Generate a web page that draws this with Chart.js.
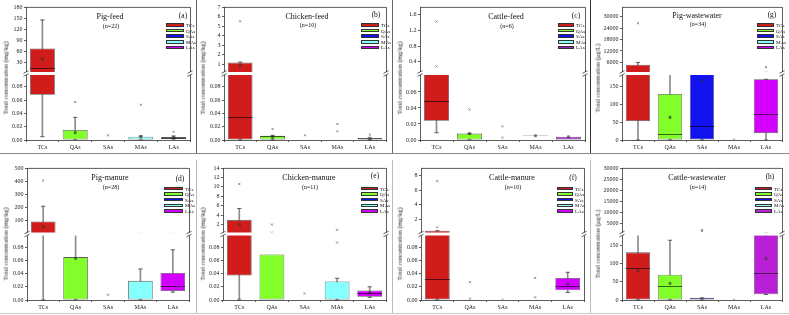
<!DOCTYPE html>
<html>
<head>
<meta charset="utf-8">
<script src="https://cdn.jsdelivr.net/npm/chart.js@4.4.1/dist/chart.umd.min.js"></script>
<style>
  body { margin: 0; background: #fff; width: 789px; height: 315px; position: relative; overflow: hidden; font-family: "Liberation Serif", "Times New Roman", serif; }
  canvas { position: absolute; }
  .t { position: absolute; white-space: nowrap; transform: translate(-50%, -50%); color: #111; line-height: 1; }
  .yl { position: absolute; white-space: nowrap; transform: translate(-50%, -50%) rotate(-90deg); color: #111; font-size: 6.5px; line-height: 1; }
  .sw { position: absolute; height: 3.6px; border: 0.6px solid #333; box-sizing: border-box; }
  .lg { position: absolute; font-size: 5px; line-height: 1; transform: translateY(-50%); color: #111; white-space: nowrap; }
  .sep { position: absolute; background: #999; }
</style>
</head>
<body>
<script>
const categories = ['TCs', 'QAs', 'SAs', 'MAs', 'LAs'];

// (a) Pig-feed, mg/kg
const pigFeedBox = [[0.068, 68], [0, 0.015], null, [0, 0.005], [0.002, 0.0045]];
const pigFeedWhisker = [[0.005, 145], [0, 0.034], null, [0, 0.006], [0.0015, 0.006]];
const pigFeedMedian = [14, null, null, null, 0.0035];
const pigFeedMean = [39, 0.011, null, 0.005, 0.004];
const pigFeedOutliers = [[], [0.057], [0.007], [0.053], [0.0125]];
const pigFeedLowerRange = [0, 0.1], pigFeedUpperRange = [0, 180];
const pigFeedLowerTicks = [0, 0.02, 0.04, 0.06, 0.08];
const pigFeedUpperTicks = [30, 60, 90, 120, 150, 180];

// (b) Chicken-feed, mg/kg
const chickenFeedBox = [[0, 1.15], [0, 0.0065], null, null, [0, 0.003]];
const chickenFeedWhisker = [[0, 1.2], [0, 0.007], null, null, [0, 0.003]];
const chickenFeedMedian = [0.034, 0.006, null, null, null];
const chickenFeedMean = [0.85, 0.004, null, null, 0.002];
const chickenFeedOutliers = [[5.5], [0.0165], [0.007], [0.024, 0.013], [0.008, 0.0035]];
const chickenFeedLowerRange = [0, 0.1], chickenFeedUpperRange = [0, 7];
const chickenFeedLowerTicks = [0, 0.02, 0.04, 0.06, 0.08];
const chickenFeedUpperTicks = [1, 2, 3, 4, 5, 6, 7];

// (c) Cattle-feed, mg/kg
const cattleFeedBox = [[0.024, 0.105], [0, 0.008], null, [0.005, 0.0056], [0, 0.004]];
const cattleFeedWhisker = [[0.009, 0.105], [0, 0.008], null, null, null];
const cattleFeedMedian = [0.0486, null, null, null, null];
const cattleFeedMean = [null, 0.008, null, 0.0053, 0.004];
const cattleFeedOutliers = [[1.43, 0.28], [0.038], [0.017, 0.003], [], []];
const cattleFeedLowerRange = [0, 0.083], cattleFeedUpperRange = [0.1, 1.8];
const cattleFeedLowerTicks = [0, 0.02, 0.04, 0.06];
const cattleFeedUpperTicks = [0.4, 0.8, 1.2, 1.6];

// (g) Pig-wastewater, ug/L
const pigWaterBox = [[53, 4800], [0, 128], [0, 700], null, [19, 169]];
const pigWaterWhisker = [[0, 6000], [0, 450], [0, 700], null, [0, 169]];
const pigWaterMedian = [1100, 16, 38, null, 72];
const pigWaterMean = [null, 63, 165, null, null];
const pigWaterOutliers = [[26500], [], [], [1], [3500, 700]];
const pigWaterLowerRange = [0, 185], pigWaterUpperRange = [200, 35000];
const pigWaterLowerTicks = [0, 50, 100, 150];
const pigWaterUpperTicks = [6000, 12000, 18000, 24000, 30000];

// (d) Pig-manure, mg/kg
const pigManureBox = [[1, 95], [0, 0.065], null, [0, 0.029], [0.0135, 0.041]];
const pigManureWhisker = [[0, 210], [0, 3], null, [0, 0.047], [0.012, 0.076]];
const pigManureMedian = [8, null, null, null, 0.0205];
const pigManureMean = [56, 0.063, null, null, null];
const pigManureOutliers = [[405], [], [0.008], [3], [3]];
const pigManureLowerRange = [0, 0.1], pigManureUpperRange = [0, 500];
const pigManureLowerTicks = [0, 0.02, 0.04, 0.06, 0.08];
const pigManureUpperTicks = [100, 200, 300, 400, 500];

// (e) Chicken-manure, mg/kg
const chickenManureBox = [[0.037, 3.0], [0, 0.069], null, [0, 0.028], [0.005, 0.0145]];
const chickenManureWhisker = [[0, 5.4], null, null, [0, 0.033], [0.004, 0.02]];
const chickenManureMedian = [null, null, null, null, 0.011];
const chickenManureMean = [2.0, null, null, null, 0.011];
const chickenManureOutliers = [[10.6, 0.001], [2.0, 0.3], [0.01], [0.087, 0.9], []];
const chickenManureLowerRange = [0, 0.1], chickenManureUpperRange = [0, 14];
const chickenManureLowerTicks = [0, 0.02, 0.04, 0.06, 0.08];
const chickenManureUpperTicks = [2, 4, 6, 8, 10, 12, 14];

// (f) Cattle-manure, mg/kg
const cattleManureBox = [[0, 0.45], null, null, null, [0.0147, 0.0335]];
const cattleManureWhisker = [[0, 0.45], null, null, null, [0.0115, 0.042]];
const cattleManureMedian = [0.032, null, null, null, 0.021];
const cattleManureMean = [null, null, null, null, 0.024];
const cattleManureOutliers = [[7.2, 0.9], [0.027, 0.002], [0.0005], [0.0335, 0.004], []];
const cattleManureLowerRange = [0, 0.1], cattleManureUpperRange = [0, 9];
const cattleManureLowerTicks = [0, 0.02, 0.04, 0.06, 0.08];
const cattleManureUpperTicks = [2, 4, 6, 8];

// (h) Cattle-wastewater, ug/L
const cattleWaterBox = [[0, 130], [0, 69], [0, 6], null, [15.5, 178]];
const cattleWaterWhisker = [[0, 400], [0, 163], [0, 6], null, [15, 600]];
const cattleWaterMedian = [87, 39, null, null, 74];
const cattleWaterMean = [80, 45, null, null, 113];
const cattleWaterOutliers = [[], [], [2100, 1500], [0.5], []];
const cattleWaterLowerRange = [0, 180], cattleWaterUpperRange = [200, 30000];
const cattleWaterLowerTicks = [0, 50, 100, 150];
const cattleWaterUpperTicks = [5000, 10000, 15000, 20000, 25000, 30000];

const baseColors = ['#d11c1c', '#82ff2b', '#1212f0', '#86ffff', '#d300ff'];
const purpleLAs = ['#d11c1c', '#82ff2b', '#1212f0', '#86ffff', '#9d1fc6'];
const violetLAs = ['#d11c1c', '#82ff2b', '#1212f0', '#86ffff', '#b81fd6'];
const unitKg = 'Total concentration (mg/kg)';
const unitL = 'Total concentration (\u03bcg/L)';

const panels = [
  { title: 'Pig-feed', n: '(n=22)', tag: '(a)', unit: unitKg, box: pigFeedBox, whisker: pigFeedWhisker, median: pigFeedMedian, mean: pigFeedMean, outliers: pigFeedOutliers,
    lowerRange: pigFeedLowerRange, upperRange: pigFeedUpperRange, lowerTicks: pigFeedLowerTicks, upperTicks: pigFeedUpperTicks, lowDigits: 2, upDigits: 0, colors: baseColors,
    L: { x: 0, y: 0, w: 196, h: 153, axisW: 26, padR: 5, padT: 7, tx: 110, ty: 17, ny: 26, gx: 183, gy: 16, lx: 166, lw: 18, ly: 25, yx: 6, yy: 78 } },
  { title: 'Chicken-feed', n: '(n=10)', tag: '(b)', unit: unitKg, box: chickenFeedBox, whisker: chickenFeedWhisker, median: chickenFeedMedian, mean: chickenFeedMean, outliers: chickenFeedOutliers,
    lowerRange: chickenFeedLowerRange, upperRange: chickenFeedUpperRange, lowerTicks: chickenFeedLowerTicks, upperTicks: chickenFeedUpperTicks, lowDigits: 2, upDigits: 0, colors: baseColors,
    L: { x: 198, y: 0, w: 193, h: 153, axisW: 26, padR: 4, padT: 7, tx: 307, ty: 17, ny: 25, gx: 376, gy: 15, lx: 361, lw: 18, ly: 25, yx: 203, yy: 78 } },
  { title: 'Cattle-feed', n: '(n=6)', tag: '(c)', unit: unitKg, box: cattleFeedBox, whisker: cattleFeedWhisker, median: cattleFeedMedian, mean: cattleFeedMean, outliers: cattleFeedOutliers,
    lowerRange: cattleFeedLowerRange, upperRange: cattleFeedUpperRange, lowerTicks: cattleFeedLowerTicks, upperTicks: cattleFeedUpperTicks, lowDigits: 2, upDigits: 1, colors: purpleLAs,
    L: { x: 394, y: 0, w: 196, h: 153, axisW: 26, padR: 4, padT: 7, tx: 506, ty: 17, ny: 26, gx: 576, gy: 16, lx: 558, lw: 16, ly: 25, yx: 400, yy: 78 } },
  { title: 'Pig-wastewater', n: '(n=34)', tag: '(g)', unit: unitL, box: pigWaterBox, whisker: pigWaterWhisker, median: pigWaterMedian, mean: pigWaterMean, outliers: pigWaterOutliers,
    lowerRange: pigWaterLowerRange, upperRange: pigWaterUpperRange, lowerTicks: pigWaterLowerTicks, upperTicks: pigWaterUpperTicks, lowDigits: 0, upDigits: 0, colors: baseColors,
    L: { x: 592, y: 0, w: 197, h: 153, axisW: 30, padR: 6, padT: 7, tx: 697, ty: 16, ny: 24, gx: 772, gy: 15, lx: 757, lw: 17, ly: 25, yx: 598, yy: 78 } },
  { title: 'Pig-manure', n: '(n=28)', tag: '(d)', unit: unitKg, box: pigManureBox, whisker: pigManureWhisker, median: pigManureMedian, mean: pigManureMean, outliers: pigManureOutliers,
    lowerRange: pigManureLowerRange, upperRange: pigManureUpperRange, lowerTicks: pigManureLowerTicks, upperTicks: pigManureUpperTicks, lowDigits: 2, upDigits: 0, colors: baseColors,
    L: { x: 0, y: 156, w: 196, h: 157, axisW: 27, padR: 6, padT: 12, tx: 110, ty: 178, ny: 187, gx: 180, gy: 179, lx: 164, lw: 19, ly: 188.5, yx: 6, yy: 244 } },
  { title: 'Chicken-manure', n: '(n=11)', tag: '(e)', unit: unitKg, box: chickenManureBox, whisker: chickenManureWhisker, median: chickenManureMedian, mean: chickenManureMean, outliers: chickenManureOutliers,
    lowerRange: chickenManureLowerRange, upperRange: chickenManureUpperRange, lowerTicks: chickenManureLowerTicks, upperTicks: chickenManureUpperTicks, lowDigits: 2, upDigits: 0, colors: baseColors,
    L: { x: 198, y: 156, w: 193, h: 157, axisW: 25, padR: 4, padT: 12, tx: 309, ty: 178, ny: 187, gx: 375, gy: 176, lx: 361, lw: 17, ly: 188.5, yx: 203, yy: 244 } },
  { title: 'Cattle-manure', n: '(n=10)', tag: '(f)', unit: unitKg, box: cattleManureBox, whisker: cattleManureWhisker, median: cattleManureMedian, mean: cattleManureMean, outliers: cattleManureOutliers,
    lowerRange: cattleManureLowerRange, upperRange: cattleManureUpperRange, lowerTicks: cattleManureLowerTicks, upperTicks: cattleManureUpperTicks, lowDigits: 2, upDigits: 0, colors: baseColors,
    L: { x: 394, y: 156, w: 196, h: 157, axisW: 27, padR: 5, padT: 12, tx: 512, ty: 178, ny: 187, gx: 573, gy: 178, lx: 557, lw: 16, ly: 188.5, yx: 400, yy: 244 } },
  { title: 'Cattle-wastewater', n: '(n=14)', tag: '(h)', unit: unitL, box: cattleWaterBox, whisker: cattleWaterWhisker, median: cattleWaterMedian, mean: cattleWaterMean, outliers: cattleWaterOutliers,
    lowerRange: cattleWaterLowerRange, upperRange: cattleWaterUpperRange, lowerTicks: cattleWaterLowerTicks, upperTicks: cattleWaterUpperTicks, lowDigits: 0, upDigits: 0, colors: violetLAs,
    L: { x: 592, y: 156, w: 197, h: 157, axisW: 30, padR: 6, padT: 12, tx: 697, ty: 178, ny: 187, gx: 770, gy: 177, lx: 755, lw: 17, ly: 188.5, yx: 598, yy: 244 } }
];

function addText(cls, text, x, y, size) {
  const d = document.createElement('div');
  d.className = cls;
  d.textContent = text;
  d.style.left = x + 'px';
  d.style.top = y + 'px';
  if (size) d.style.fontSize = size + 'px';
  document.body.appendChild(d);
  return d;
}

// page separators between the sub-figures
[[196, 0, 1, 153, '#666'], [392, 0, 1, 153, '#666'], [590, 0, 1, 153, '#333'],
 [196, 160, 1, 153, '#bbb'], [392, 160, 1, 153, '#bbb'], [590, 160, 1, 153, '#bbb'],
 [0, 153, 789, 1, '#888'], [0, 313, 789, 1, '#ccc']].forEach(([x, y, w, h, c]) => {
  const d = document.createElement('div');
  d.className = 'sep';
  d.style.cssText += `left:${x}px;top:${y}px;width:${w}px;height:${h}px;background:${c};`;
  document.body.appendChild(d);
});

const tickFont = { family: '"Liberation Serif", serif', size: 6 };
const axisColor = '#333';

function buildPanel(p) {
  const L = p.L;
  const cv = document.createElement('canvas');
  cv.width = L.w;
  cv.height = L.h;
  cv.style.left = L.x + 'px';
  cv.style.top = L.y + 'px';
  document.body.appendChild(cv);

  const lowMax = p.lowerRange[1];
  const split = lists => {
    const lo = [], up = [];
    lists.forEach((vals, i) => (vals || []).forEach(v => (v <= lowMax ? lo : up).push({ x: categories[i], y: v })));
    return [lo, up];
  };
  const caps = split(p.whisker);
  const means = split(p.mean.map(m => (m == null ? [] : [m])));
  const outs = split(p.outliers);

  const clipLo = { left: false, right: false, top: 0, bottom: false };
  const clipUp = { left: false, right: false, top: false, bottom: 0 };
  const datasets = [];
  [['yL', clipLo, 0], ['yU', clipUp, 1]].forEach(([axis, clip, k]) => {
    datasets.push({ type: 'bar', data: p.whisker, yAxisID: axis, clip, grouped: false, barThickness: 1,
      backgroundColor: '#8c8c8c', borderWidth: 0, order: 5 });
    datasets.push({ type: 'bar', data: p.box, yAxisID: axis, clip, grouped: false, barPercentage: 0.76, categoryPercentage: 1,
      backgroundColor: p.colors, borderColor: '#5a5a5a', borderWidth: 0.8, borderSkipped: false, order: 4 });
    datasets.push({ type: 'line', data: caps[k], yAxisID: axis, clip, showLine: false, pointStyle: 'line', pointRadius: 2.2,
      pointBorderColor: '#444', pointBorderWidth: 0.8, order: 3 });
    datasets.push({ type: 'line', data: means[k], yAxisID: axis, clip, showLine: false, pointStyle: 'rect', pointRadius: 1.5,
      pointBackgroundColor: 'rgba(70,70,70,0.7)', pointBorderColor: 'rgba(40,40,40,0.7)', pointBorderWidth: 0.5, order: 2 });
    datasets.push({ type: 'line', data: outs[k], yAxisID: axis, clip, showLine: false, pointStyle: 'crossRot', pointRadius: 1.4,
      pointBorderColor: '#777', pointBorderWidth: 0.8, order: 1 });
  });

  const yAxis = (range, ticks, digits, weight) => ({
    type: 'linear', position: 'left', stack: 'y', stackWeight: 1, weight,
    min: range[0], max: range[1],
    afterBuildTicks: s => { s.ticks = ticks.map(v => ({ value: v })); },
    afterFit: s => { s.width = L.axisW; },
    grid: { drawOnChartArea: false, drawTicks: true, tickLength: 2, color: axisColor, lineWidth: 0.8 },
    border: { color: axisColor, width: 0.8 },
    ticks: { font: tickFont, color: '#222', padding: 1.5, autoSkip: false, callback: v => v.toFixed(digits) }
  });

  const extras = {
    id: 'boxExtras',
    afterDatasetsDraw(chart) {
      const { ctx, scales } = chart;
      const boxMeta = chart.getDatasetMeta(1);
      ctx.save();
      ctx.strokeStyle = 'rgba(0,0,0,0.6)';
      ctx.lineWidth = 1;
      p.median.forEach((m, i) => {
        if (m == null) return;
        const sc = m <= lowMax ? scales.yL : scales.yU;
        const y = Math.round(sc.getPixelForValue(m)) + 0.5;
        const x = scales.x.getPixelForValue(i);
        const w = boxMeta.data[i].width;
        ctx.beginPath();
        ctx.moveTo(x - w / 2, y);
        ctx.lineTo(x + w / 2, y);
        ctx.stroke();
      });
      ctx.restore();
    },
    afterDraw(chart) {
      const { ctx, chartArea, scales } = chart;
      const yb = scales.yL.top;
      ctx.save();
      // top frame
      ctx.strokeStyle = axisColor;
      ctx.lineWidth = 0.8;
      ctx.beginPath();
      ctx.moveTo(chartArea.left, chartArea.top + 0.4);
      ctx.lineTo(chartArea.right, chartArea.top + 0.4);
      ctx.stroke();
      // axis break
      ctx.fillStyle = '#fff';
      ctx.fillRect(chartArea.left - 4, yb - 1.5, chartArea.right - chartArea.left + 8, 3);
      ctx.beginPath();
      [chartArea.left, chartArea.right].forEach(x => {
        [-1.5, 1.5].forEach(dy => {
          ctx.moveTo(x - 2.5, yb + dy + 1.3);
          ctx.lineTo(x + 2.5, yb + dy - 1.3);
        });
      });
      ctx.stroke();
      ctx.restore();
    }
  };

  new Chart(cv, {
    type: 'bar',
    data: { labels: categories, datasets },
    options: {
      responsive: false,
      animation: false,
      devicePixelRatio: 1,
      layout: { padding: { left: 0, right: L.padR, top: L.padT, bottom: 0 } },
      plugins: { legend: { display: false }, tooltip: { enabled: false } },
      scales: {
        x: {
          type: 'category', offset: true,
          afterFit: s => { s.height = 13; },
          grid: { drawOnChartArea: false, drawTicks: true, tickLength: 2, color: axisColor, lineWidth: 0.8 },
          border: { color: axisColor, width: 0.8 },
          ticks: { font: tickFont, color: '#222', padding: 1.5, autoSkip: false }
        },
        yL: yAxis(p.lowerRange, p.lowerTicks, p.lowDigits, 0),
        yU: yAxis(p.upperRange, p.upperTicks, p.upDigits, 1),
        yR: {
          type: 'linear', position: 'right', display: true,
          afterFit: s => { s.width = 1; },
          grid: { display: false },
          border: { color: axisColor, width: 0.8 },
          ticks: { display: false }
        }
      }
    },
    plugins: [extras]
  });

  // texts and legend
  addText('t', p.title, L.tx, L.ty, 8);
  addText('t', p.n, L.tx + 1, L.ny, 6);
  addText('t', p.tag, L.gx, L.gy, 7.5);
  addText('yl', p.unit, L.yx, L.yy);
  categories.forEach((c, i) => {
    const yc = L.ly + i * 5.6;
    const s = document.createElement('div');
    s.className = 'sw';
    s.style.left = L.lx + 'px';
    s.style.top = (yc - 1.8) + 'px';
    s.style.width = L.lw + 'px';
    s.style.background = p.colors[i];
    document.body.appendChild(s);
    const t = document.createElement('div');
    t.className = 'lg';
    t.textContent = c;
    t.style.left = (L.lx + L.lw + 2) + 'px';
    t.style.top = yc + 'px';
    document.body.appendChild(t);
  });
}

panels.forEach(buildPanel);
</script>
</body>
</html>
